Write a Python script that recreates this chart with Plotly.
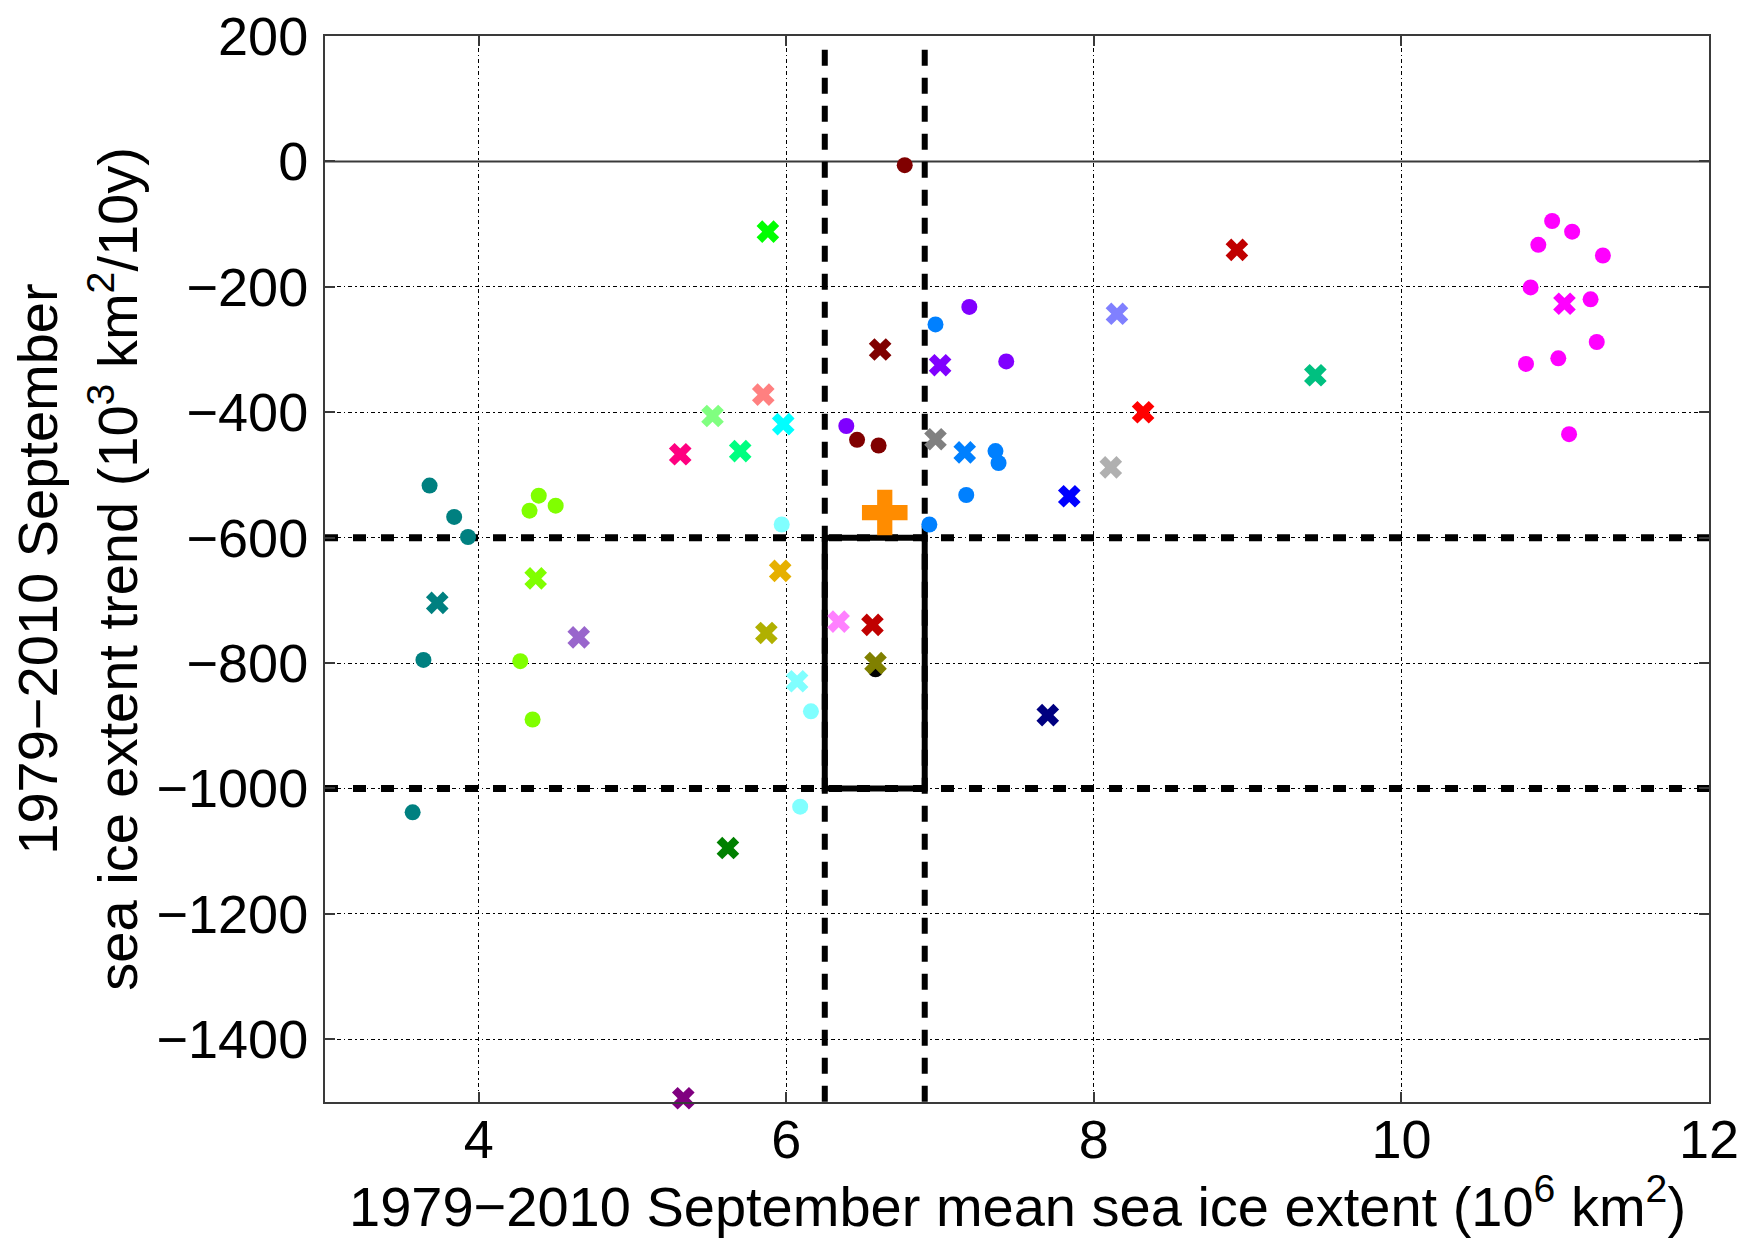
import plotly.graph_objects as go

# Individual ensemble members (filled circles)
member_extent = [3.68, 3.84, 3.93, 3.64, 3.57,
                 4.39, 4.33, 4.50, 4.27, 4.35,
                 5.97, 6.16, 6.09,
                 6.77, 6.46, 6.60,
                 7.19, 6.39, 7.43,
                 6.97, 7.17, 6.93, 7.36, 7.38,
                 6.58,
                 10.98, 11.11, 10.89, 11.31, 10.84, 11.23, 11.27, 11.02, 10.81, 11.09]
member_trend = [-517, -567, -599, -795, -1038,
                -533, -557, -549, -797, -890,
                -579, -877, -1029,
                -6, -444, -453,
                -232, -422, -319,
                -260, -532, -579, -462, -481,
                -810,
                -95, -112, -133, -150, -201, -220, -288, -314, -323, -435]
member_color = ["#008080"] * 5 + ["#80FF00"] * 5 + ["#80FFFF"] * 3 + ["#800000"] * 3 + \
               ["#8000FF"] * 3 + ["#0080FF"] * 5 + ["#000000"] + ["#FF00FF"] * 10

# Model / ensemble-mean values (crosses)
model_extent = [5.88, 6.61, 7.00, 5.85, 5.52, 5.98, 6.97, 7.16, 5.31, 5.70,
                4.37, 3.73, 4.65, 5.96, 5.87, 6.34, 6.56, 6.58, 6.07, 5.62,
                5.33, 7.84, 8.15, 8.11, 8.32, 8.93, 9.44, 11.06, 7.70]
model_trend = [-112, -300, -325, -372, -406, -419, -443, -464, -467, -462,
               -665, -704, -759, -653, -752, -734, -739, -800, -829, -1095,
               -1494, -534, -243, -488, -400, -141, -341, -227, -883]
model_color = ["#00FF00", "#800000", "#8000FF", "#FF8080", "#80FF80", "#00FFFF", "#808080",
               "#0080FF", "#FF0080", "#00FF80", "#80FF00", "#008080", "#9966CC", "#E6B000",
               "#B0B000", "#FF80FF", "#C00000", "#808000", "#80FFFF", "#008000", "#800080",
               "#0000FF", "#8080FF", "#B0B0B0", "#FF0000", "#C00000", "#00C080", "#FF00FF",
               "#000080"]

# Observations
obs_extent = [6.64]
obs_trend = [-560]

# Observational bounds
extent_bounds = [6.25, 6.9]
trend_bounds = [-1000, -600]
extent_line_top = 178

x_range = [3, 12]
y_range = [-1500, 200]
x_ticks = [4, 6, 8, 10, 12]
y_ticks = [-1400, -1200, -1000, -800, -600, -400, -200, 0, 200]

FONT = "Liberation Sans, Arial, sans-serif"
FS = 54
FS_TITLE = 56
AXIS_GREY = "#3a3a3a"

fig = go.Figure()

# zero line
fig.add_trace(go.Scatter(x=x_range, y=[0, 0], mode="lines",
                         line=dict(color=AXIS_GREY, width=2), hoverinfo="skip"))

# horizontal trend bounds
for tb in trend_bounds:
    fig.add_trace(go.Scatter(x=x_range, y=[tb, tb], mode="lines",
                             line=dict(color="black", width=7, dash="13px,15px"),
                             hoverinfo="skip"))

# vertical extent bounds (drawn from the top down)
for eb in extent_bounds:
    fig.add_trace(go.Scatter(x=[eb, eb], y=[extent_line_top, y_range[0]], mode="lines",
                             line=dict(color="black", width=6, dash="16px,12px"),
                             hoverinfo="skip"))

# box of the observational range
fig.add_trace(go.Scatter(
    x=[extent_bounds[0], extent_bounds[1], extent_bounds[1], extent_bounds[0], extent_bounds[0]],
    y=[trend_bounds[1], trend_bounds[1], trend_bounds[0], trend_bounds[0], trend_bounds[1]],
    mode="lines", line=dict(color="black", width=6), hoverinfo="skip"))

fig.add_trace(go.Scatter(x=member_extent, y=member_trend, mode="markers",
                         marker=dict(symbol="circle", size=16, color=member_color,
                                     line=dict(width=0)),
                         cliponaxis=False))
fig.add_trace(go.Scatter(x=model_extent, y=model_trend, mode="markers",
                         marker=dict(symbol="x", size=20, color=model_color,
                                     line=dict(width=0)),
                         cliponaxis=False))
fig.add_trace(go.Scatter(x=obs_extent, y=obs_trend, mode="markers",
                         marker=dict(symbol="cross", size=38, color="#FF8C00",
                                     line=dict(width=0)),
                         cliponaxis=False))

grid_dash = "4px,3px,1.5px,3px"
axis_common = dict(ticks="inside", ticklen=10, tickcolor=AXIS_GREY, tickwidth=2,
                   showline=True, linecolor=AXIS_GREY, linewidth=2, mirror="ticks",
                   showgrid=True, gridcolor="black", gridwidth=1, griddash=grid_dash,
                   zeroline=False, automargin=False,
                   tickfont=dict(family=FONT, size=FS, color="black"))
fig.update_xaxes(range=x_range, tickvals=x_ticks, ticklabelstandoff=-11, **axis_common)
fig.update_yaxes(range=y_range, tickvals=y_ticks, ticklabelstandoff=4, **axis_common)

plot_h = 1242 - 35.6 - 140.4
plot_w = 1746 - 324.5 - 36.5
title_font = dict(family=FONT, size=FS_TITLE, color="black")
fig.add_annotation(text="1979−2010 September mean sea ice extent (10<sup>6</sup> km<sup>2</sup>)",
                   xref="paper", yref="paper", x=0.5, y=-(1240 - 1101.6) / plot_h,
                   xanchor="center", yanchor="bottom", showarrow=False, font=title_font)
fig.add_annotation(text="1979−2010 September", textangle=-90,
                   xref="paper", yref="paper", x=(36 - 324.5) / plot_w, y=0.5,
                   xanchor="center", yanchor="middle", showarrow=False, font=title_font)
fig.add_annotation(text="sea ice extent trend (10<sup>3</sup> km<sup>2</sup>/10y)", textangle=-90,
                   xref="paper", yref="paper", x=(113 - 324.5) / plot_w, y=0.5,
                   xanchor="center", yanchor="middle", showarrow=False, font=title_font)

fig.update_layout(width=1746, height=1242, showlegend=False,
                  plot_bgcolor="white", paper_bgcolor="white",
                  margin=dict(l=324.5, r=36.5, t=35.6, b=140.4, autoexpand=False))

fig.write_html("out.html")
